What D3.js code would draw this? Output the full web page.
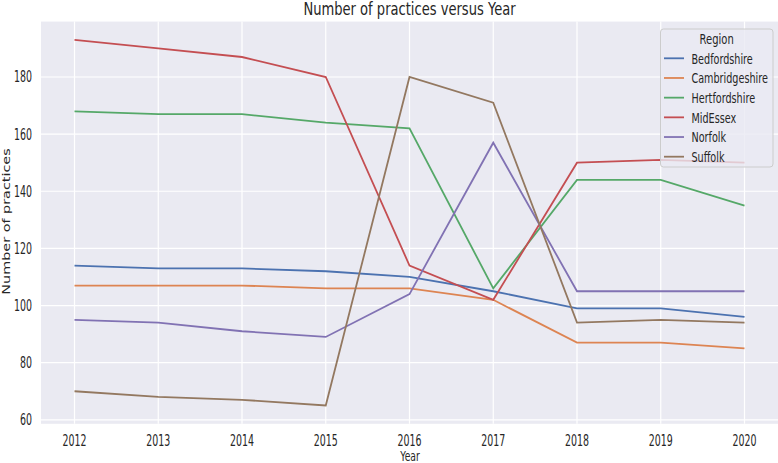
<!DOCTYPE html>
<html>
<head>
<meta charset="utf-8">
<script src="https://cdn.jsdelivr.net/npm/d3@7"></script>
<style>
  body { margin: 0; background: #fff; }
  text { font-family: "DejaVu Sans", sans-serif; fill: #262626; }
</style>
</head>
<body>
<script>
// data
var years = [2012, 2013, 2014, 2015, 2016, 2017, 2018, 2019, 2020];
var regions = ["Bedfordshire", "Cambridgeshire", "Hertfordshire", "MidEssex", "Norfolk", "Suffolk"];
var bedfordshire   = [114, 113, 113, 112, 110, 105, 99, 99, 96];
var cambridgeshire = [107, 107, 107, 106, 106, 102, 87, 87, 85];
var hertfordshire  = [168, 167, 167, 164, 162, 106, 144, 144, 135];
var midEssex       = [193, 190, 187, 180, 114, 102, 150, 151, 150];
var norfolk        = [95, 94, 91, 89, 104, 157, 105, 105, 105];
var suffolk        = [70, 68, 67, 65, 180, 171, 94, 95, 94];
var yTicks = [60, 80, 100, 120, 140, 160, 180];
var colors = ["#4c72b0", "#dd8452", "#55a868", "#c44e52", "#8172b3", "#937860"];

var series = [bedfordshire, cambridgeshire, hertfordshire, midEssex, norfolk, suffolk]
  .map(function(vals, i) {
    return { name: regions[i], color: colors[i],
             points: vals.map(function(v, j) { return { year: years[j], value: v }; }) };
  });

var width = 778, height = 463;

var svg = d3.select("body").append("svg")
    .attr("width", width)
    .attr("height", height);

var x = d3.scaleLinear().domain([2012, 2020]).range([74.5, 744.5]);
var y = d3.scaleLinear().domain([60, 180]).range([419.8, 77]);

// place a text squeezed sideways around its anchor point (the picture is squeezed)
function at(px, py, sx) {
  return "translate(" + px + "," + py + ") scale(" + sx + ",1)";
}

// axes background
var x0 = x(2011.6), x1 = x(2020.4), y0 = y(199.4), y1 = y(58.6);
svg.append("rect")
    .attr("x", x0).attr("y", y0)
    .attr("width", x1 - x0).attr("height", y1 - y0)
    .attr("fill", "#eaeaf2");

// grid
svg.append("g").selectAll("line")
    .data(years)
  .enter().append("line")
    .attr("x1", function(d) { return x(d); })
    .attr("x2", function(d) { return x(d); })
    .attr("y1", y0).attr("y2", y1)
    .attr("stroke", "#fff").attr("stroke-width", 1.2);

svg.append("g").selectAll("line")
    .data(yTicks)
  .enter().append("line")
    .attr("x1", x0).attr("x2", x1)
    .attr("y1", function(d) { return y(d); })
    .attr("y2", function(d) { return y(d); })
    .attr("stroke", "#fff").attr("stroke-width", 1.2);

// tick labels
svg.append("g").selectAll("text")
    .data(years)
  .enter().append("text")
    .attr("transform", function(d) { return at(x(d), 445.5, 0.63); })
    .attr("text-anchor", "middle")
    .style("font-size", "15px")
    .text(function(d) { return d; });

svg.append("g").selectAll("text")
    .data(yTicks)
  .enter().append("text")
    .attr("transform", function(d) { return at(32, y(d), 0.63); })
    .attr("dy", "0.36em")
    .attr("text-anchor", "end")
    .style("font-size", "15px")
    .text(function(d) { return d; });

// lines
var line = d3.line()
    .x(function(d) { return x(d.year); })
    .y(function(d) { return y(d.value); });

svg.append("g").selectAll("path")
    .data(series)
  .enter().append("path")
    .attr("d", function(d) { return line(d.points); })
    .attr("fill", "none")
    .attr("stroke", function(d) { return d.color; })
    .attr("stroke-width", 1.8);

// title and axis labels
svg.append("text")
    .attr("transform", at(409.5, 15, 0.77))
    .attr("text-anchor", "middle")
    .style("font-size", "17px")
    .text("Number of practices versus Year");

svg.append("text")
    .attr("transform", at(410, 460.5, 0.66))
    .attr("text-anchor", "middle")
    .style("font-size", "14px")
    .text("Year");

svg.append("text")
    .attr("transform", "translate(10,221.5) scale(0.68,1) rotate(-90)")
    .attr("text-anchor", "middle")
    .style("font-size", "14.4px")
    .text("Number of practices");

// legend
var legend = svg.append("g");
legend.append("rect")
    .attr("x", 660.5).attr("y", 29)
    .attr("width", 112.5).attr("height", 138)
    .attr("rx", 3)
    .attr("fill", "#eaeaf2").attr("fill-opacity", 0.8)
    .attr("stroke", "#cccccc");

legend.append("text")
    .attr("transform", at(716.7, 39, 0.69))
    .attr("dy", "0.36em")
    .attr("text-anchor", "middle")
    .style("font-size", "14.5px")
    .text("Region");

var item = legend.selectAll(".item")
    .data(series)
  .enter().append("g")
    .attr("class", "item")
    .attr("transform", function(d, i) { return "translate(0," + (58.3 + i * 19.68) + ")"; });

item.append("line")
    .attr("x1", 664).attr("x2", 684)
    .attr("stroke", function(d) { return d.color; })
    .attr("stroke-width", 1.8);

item.append("text")
    .attr("transform", at(691.5, 0, 0.665))
    .attr("dy", "0.36em")
    .style("font-size", "14.5px")
    .text(function(d) { return d.name; });
</script>
</body>
</html>
